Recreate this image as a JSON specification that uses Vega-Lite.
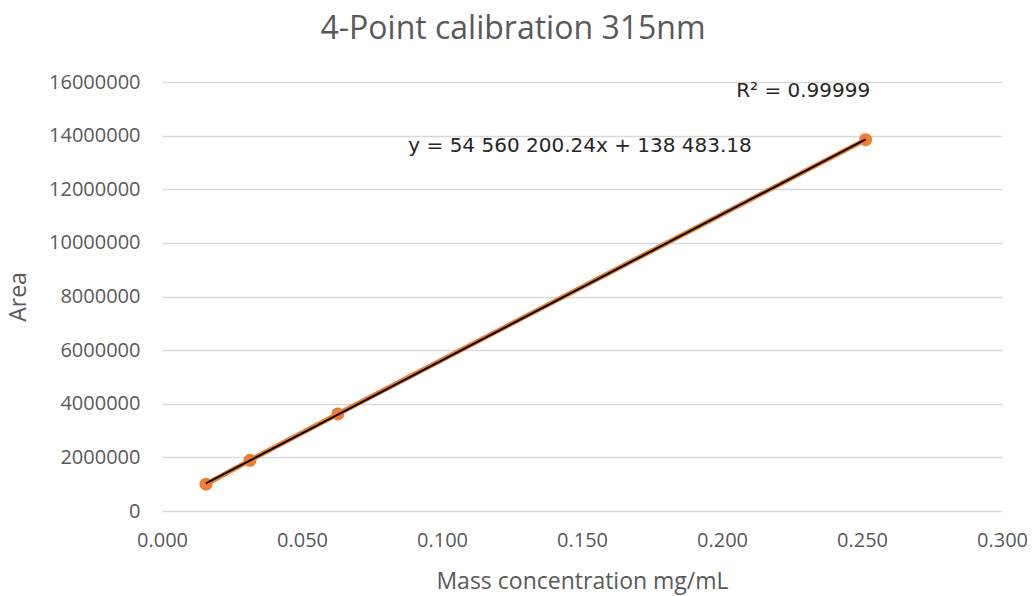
{
  "$schema": "https://vega.github.io/schema/vega-lite/v6.json",
  "autosize": {"type": "none"},
  "width": 840,
  "height": 429,
  "padding": {"left": 162, "top": 82, "right": 30, "bottom": 85},
  "background": "white",
  "config": {
    "view": {"stroke": null},
    "font": "Open Sans"
  },
  "title": {
    "text": "4-Point calibration 315nm",
    "font": "Open Sans",
    "fontSize": 32,
    "fontWeight": "normal",
    "color": "#595959",
    "anchor": "middle",
    "dx": -69,
    "offset": 26
  },
  "data": {
    "values": [
      {"conc": 0.0157, "area": 1000000},
      {"conc": 0.0314, "area": 1890000},
      {"conc": 0.0628, "area": 3620000},
      {"conc": 0.2513, "area": 13850000}
    ]
  },
  "layer": [
    {
      "mark": {"type": "line", "color": "#ED7D31", "strokeWidth": 5},
      "encoding": {
        "x": {
          "field": "conc", "type": "quantitative",
          "scale": {"domain": [0, 0.3], "nice": false},
          "axis": {
            "title": "Mass concentration mg/mL",
            "titleFont": "Open Sans", "titleFontSize": 23, "titleFontWeight": "normal", "titleColor": "#595959",
            "titlePadding": 20,
            "values": [0, 0.05, 0.1, 0.15, 0.2, 0.25, 0.3],
            "format": ".3f",
            "labelFont": "Open Sans", "labelFontSize": 20, "labelColor": "#595959",
            "labelPadding": 19,
            "labelFlush": false,
            "grid": false, "ticks": false, "domain": false
          }
        },
        "y": {
          "field": "area", "type": "quantitative",
          "scale": {"domain": [0, 16000000], "nice": false},
          "axis": {
            "title": "Area",
            "titleFont": "Open Sans", "titleFontSize": 23, "titleFontWeight": "normal", "titleColor": "#595959",
            "titlePadding": 18,
            "values": [0, 2000000, 4000000, 6000000, 8000000, 10000000, 12000000, 14000000, 16000000],
            "format": "d",
            "labelFont": "Open Sans", "labelFontSize": 20, "labelColor": "#595959",
            "labelPadding": 22,
            "grid": true, "gridColor": "#D9D9D9", "gridWidth": 1.3,
            "ticks": false, "domain": false
          }
        }
      }
    },
    {
      "mark": {"type": "point", "filled": true, "color": "#ED7D31", "opacity": 1, "size": 170},
      "encoding": {
        "x": {"field": "conc", "type": "quantitative"},
        "y": {"field": "area", "type": "quantitative"}
      }
    },
    {
      "transform": [{"regression": "area", "on": "conc"}],
      "mark": {"type": "line", "color": "#000000", "strokeWidth": 2},
      "encoding": {
        "x": {"field": "conc", "type": "quantitative"},
        "y": {"field": "area", "type": "quantitative"}
      }
    },
    {
      "data": {"values": [{"label": "R² = 0.99999"}]},
      "mark": {"type": "text", "font": "DejaVu Sans", "fontSize": 20, "fontWeight": "normal", "fill": "#262626", "align": "center", "baseline": "middle"},
      "encoding": {
        "x": {"datum": 0.229},
        "y": {"datum": 15650000},
        "text": {"field": "label"}
      }
    },
    {
      "data": {"values": [{"label": "y = 54 560 200.24x + 138 483.18"}]},
      "mark": {"type": "text", "font": "DejaVu Sans", "fontSize": 20, "fontWeight": "normal", "fill": "#262626", "align": "center", "baseline": "middle"},
      "encoding": {
        "x": {"datum": 0.1493},
        "y": {"datum": 13600000},
        "text": {"field": "label"}
      }
    }
  ]
}
